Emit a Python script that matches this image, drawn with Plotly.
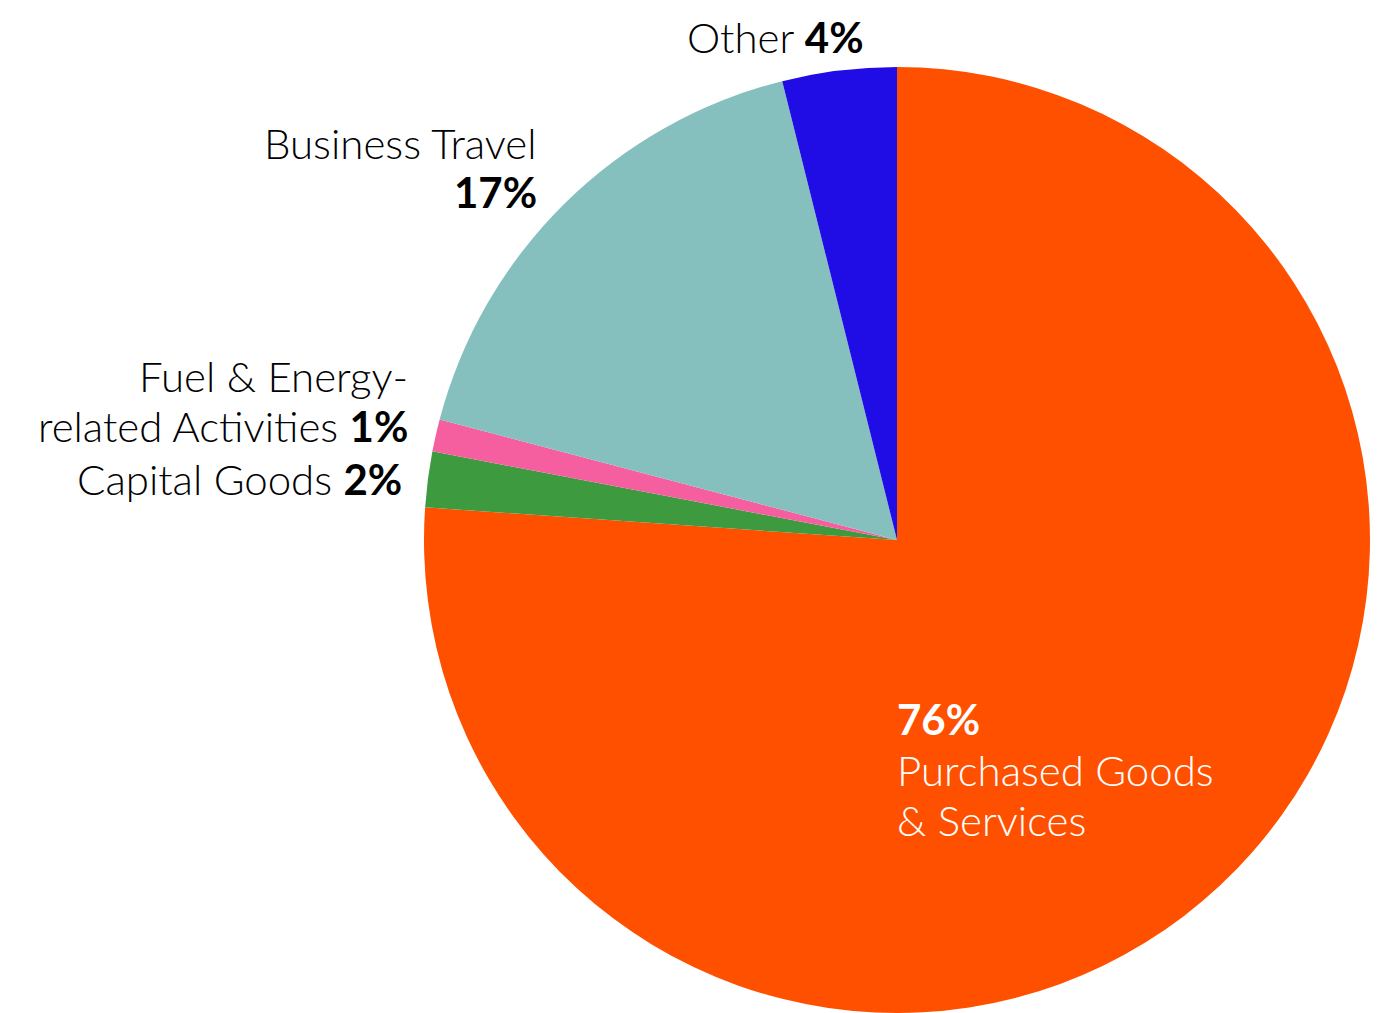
import plotly.graph_objects as go

categories = ["Purchased Goods & Services", "Capital Goods", "Fuel & Energy-related Activities",
              "Business Travel", "Other"]
values = [76.1, 1.9, 1.1, 17.0, 3.9]
colors = ["#FF5000", "#3E9A3E", "#F55FA0", "#85C0BF", "#200DE6"]

# page body has an 8px margin, so the figure is 8px smaller and shifted
OFF = 8
W, H = 1389 - OFF, 1013 - OFF
CX, CY, R = 897 - OFF, 540 - OFF, 473

fig = go.Figure(go.Pie(
    labels=categories, values=values, sort=False, direction="clockwise", rotation=0,
    marker=dict(colors=colors, line=dict(width=0)),
    textinfo="none", hoverinfo="label+percent", showlegend=False,
    domain=dict(x=[(CX - R) / W, (CX + R) / W], y=[(H - (CY + R)) / H, (H - (CY - R)) / H]),
))

FONT = "Lato"
FS = 42

def px(x):
    return (x - OFF) / W

def py(y):
    return 1 - (y - OFF) / H

# (text, x, y, anchor, color) in screen pixels
lines = [
    ("Other <b>4%</b>", 866, 37.5, "right", "black"),
    ("Business Travel", 539, 143, "right", "black"),
    ("<b>17%</b>", 539, 192, "right", "black"),
    ("Fuel &amp; Energy-", 410, 376, "right", "black"),
    ("related Activities <b>1%</b>", 410, 426, "right", "black"),
    ("Capital Goods <b>2%</b>", 404, 479, "right", "black"),
    ("<b>76%</b>", 895, 719, "left", "white"),
    ("Purchased Goods", 895, 770, "left", "white"),
    ("&amp; Services", 895, 820, "left", "white"),
]
for t, x, y, anc, col in lines:
    fig.add_annotation(text=t, x=px(x), y=py(y), xref="paper", yref="paper",
                       xanchor=anc, yanchor="middle", align=anc, showarrow=False,
                       font=dict(family=FONT, size=FS, color=col, weight=300))

fig.update_layout(
    width=W, height=H, margin=dict(l=0, r=0, t=0, b=0),
    paper_bgcolor="white", plot_bgcolor="white",
    font=dict(family=FONT),
)

fig.write_html("out.html")
